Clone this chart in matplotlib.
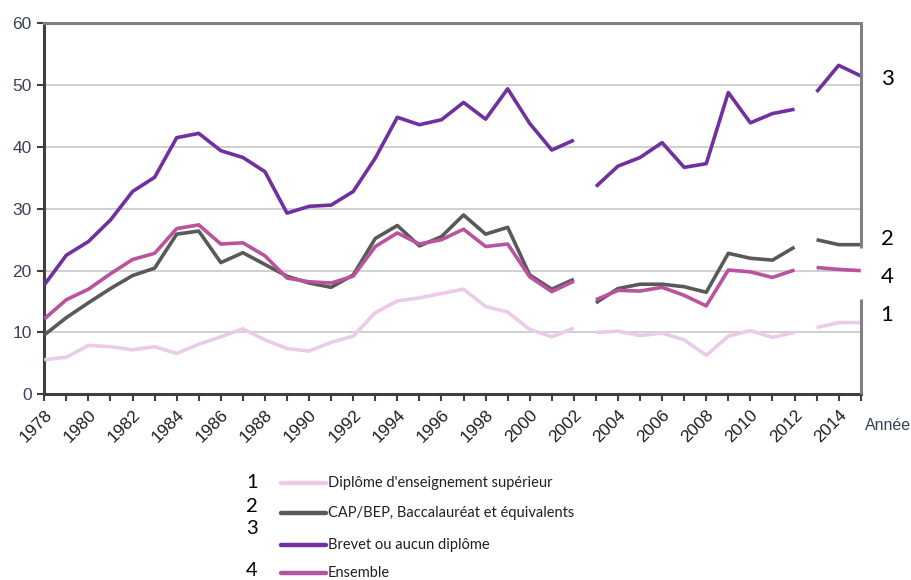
import numpy as np
import matplotlib
matplotlib.use("Agg")
import matplotlib.pyplot as plt
from matplotlib.lines import Line2D

plt.rcParams["font.family"] = ["Liberation Sans", "DejaVu Sans"]

years = np.arange(1978, 2016)

# Diplome d'enseignement superieur
sup = [5.6, 6.0, 7.9, 7.7, 7.2, 7.7, 6.6, 8.1, 9.3, 10.6,
       8.8, 7.4, 7.0, 8.4, 9.4, 13.2, 15.1, 15.6, 16.3, 17.0,
       14.2, 13.3, 10.5, 9.3, 10.7, 10.0, 10.2, 9.5, 9.9, 8.8,
       6.3, 9.4, 10.3, 9.2, 10.0, 10.8, 11.6, 11.6]
# CAP/BEP, Bac
cap = [9.6, 12.4, 14.8, 17.1, 19.2, 20.4, 25.9, 26.4, 21.3, 22.9,
       21.0, 19.1, 18.0, 17.3, 19.3, 25.2, 27.3, 24.0, 25.5, 29.0,
       25.9, 27.0, 19.3, 17.0, 18.6, 14.8, 17.1, 17.8, 17.8, 17.4,
       16.5, 22.8, 22.0, 21.7, 23.8, 25.0, 24.2, 24.2]
# Brevet ou aucun diplome
brevet = [17.7, 22.5, 24.7, 28.2, 32.8, 35.1, 41.5, 42.2, 39.4, 38.3,
          36.0, 29.3, 30.4, 30.6, 32.8, 38.2, 44.8, 43.6, 44.4, 47.2,
          44.5, 49.4, 43.8, 39.5, 41.1, 33.6, 36.9, 38.3, 40.7, 36.7,
          37.3, 48.8, 43.9, 45.4, 46.1, 48.9, 53.2, 51.5]
# Ensemble
ens = [12.2, 15.3, 17.0, 19.5, 21.8, 22.8, 26.8, 27.4, 24.3, 24.5,
       22.4, 18.8, 18.2, 18.0, 19.1, 23.9, 26.1, 24.3, 25.0, 26.7,
       23.9, 24.3, 19.0, 16.6, 18.3, 15.3, 16.8, 16.7, 17.3, 16.0,
       14.3, 20.1, 19.8, 18.9, 20.1, 20.5, 20.2, 20.0]

# series breaks (new segment starts at these years)
breaks = [2003, 2013]

series = [
    ("Diplôme d'enseignement supérieur", sup, "#EBCBE8", "1"),
    ("CAP/BEP, Baccalauréat et équivalents", cap, "#595959", "2"),
    ("Brevet ou aucun diplôme", brevet, "#7030A0", "3"),
    ("Ensemble", ens, "#B9529F", "4"),
]
right_labels = {"3": 79, "2": 239, "4": 277, "1": 315}  # pixel rows

W, H = 912, 580
fig = plt.figure(figsize=(W / 100, H / 100), dpi=100)
ax = fig.add_axes([44.3 / W, 1 - 394.3 / H, (860.7 - 44.3) / W, (394.3 - 23.3) / H])

edges = [1978] + breaks + [2016]
for name, vals, col, num in series:
    vals = np.array(vals)
    for a, b in zip(edges[:-1], edges[1:]):
        m = (years >= a) & (years < b)
        ax.plot(years[m], vals[m], color=col, lw=2.6, solid_capstyle="butt", zorder=3)

ax.set_xlim(1978, 2015)
ax.set_ylim(0, 60)
ax.set_yticks(range(0, 61, 10))
ax.set_xticks(years, minor=True)
ax.set_xticks(np.arange(1978, 2015, 2))
ax.set_xticklabels([str(y) for y in range(1978, 2015, 2)], rotation=45,
                   ha="right", va="top", rotation_mode="anchor")
ax.tick_params(axis="y", direction="out", length=5, width=1.5, color="#404040",
               labelsize=12.5, labelcolor="#3a4256", pad=4)
ax.tick_params(axis="x", which="both", direction="out", length=5, width=1.5,
               color="#404040", labelsize=12.5, labelcolor="#202020", pad=4)

for y in range(10, 60, 10):
    ax.axhline(y, color="#D0D0D0", lw=1.4, zorder=1)

ax.spines["left"].set_color("#404040")
ax.spines["left"].set_linewidth(2.2)
ax.spines["bottom"].set_color("#404040")
ax.spines["bottom"].set_linewidth(2.2)
ax.spines["top"].set_color("#808080")
ax.spines["top"].set_linewidth(2.2)
ax.spines["right"].set_visible(False)
# right border, interrupted behind the "4" label
for y0, y1 in [(0, 15.4), (23.7, 60)]:
    ax.plot([1, 1], [y0 / 60, y1 / 60], transform=ax.transAxes, color="#808080",
            lw=2.2, clip_on=False, zorder=4, solid_capstyle="butt")

fig.text(865 / W, 1 - 425 / H, "Année", fontsize=11.5, color="#3a4256",
         va="center", ha="left")

for num, py in right_labels.items():
    fig.text(887 / W, 1 - py / H, num, fontsize=16, color="black",
             family="Lato", ha="center", va="center")

# legend
rows = [483, 513, 545, 573]
nums_y = [482, 506, 528, 570]
for (name, vals, col, num), ry, ny in zip(series, rows, nums_y):
    fig.add_artist(Line2D([281 / W, 326 / W], [1 - ry / H, 1 - ry / H], color=col,
                          lw=3.2, solid_capstyle="round"))
    fig.text(328 / W, 1 - ry / H, name, fontsize=10.5, color="#202020",
             family="Lato", va="center", ha="left")
    fig.text(252 / W, 1 - ny / H, num, fontsize=14.5, color="black",
             family="Lato", ha="center", va="center")

fig.savefig("out.png", dpi=100)
